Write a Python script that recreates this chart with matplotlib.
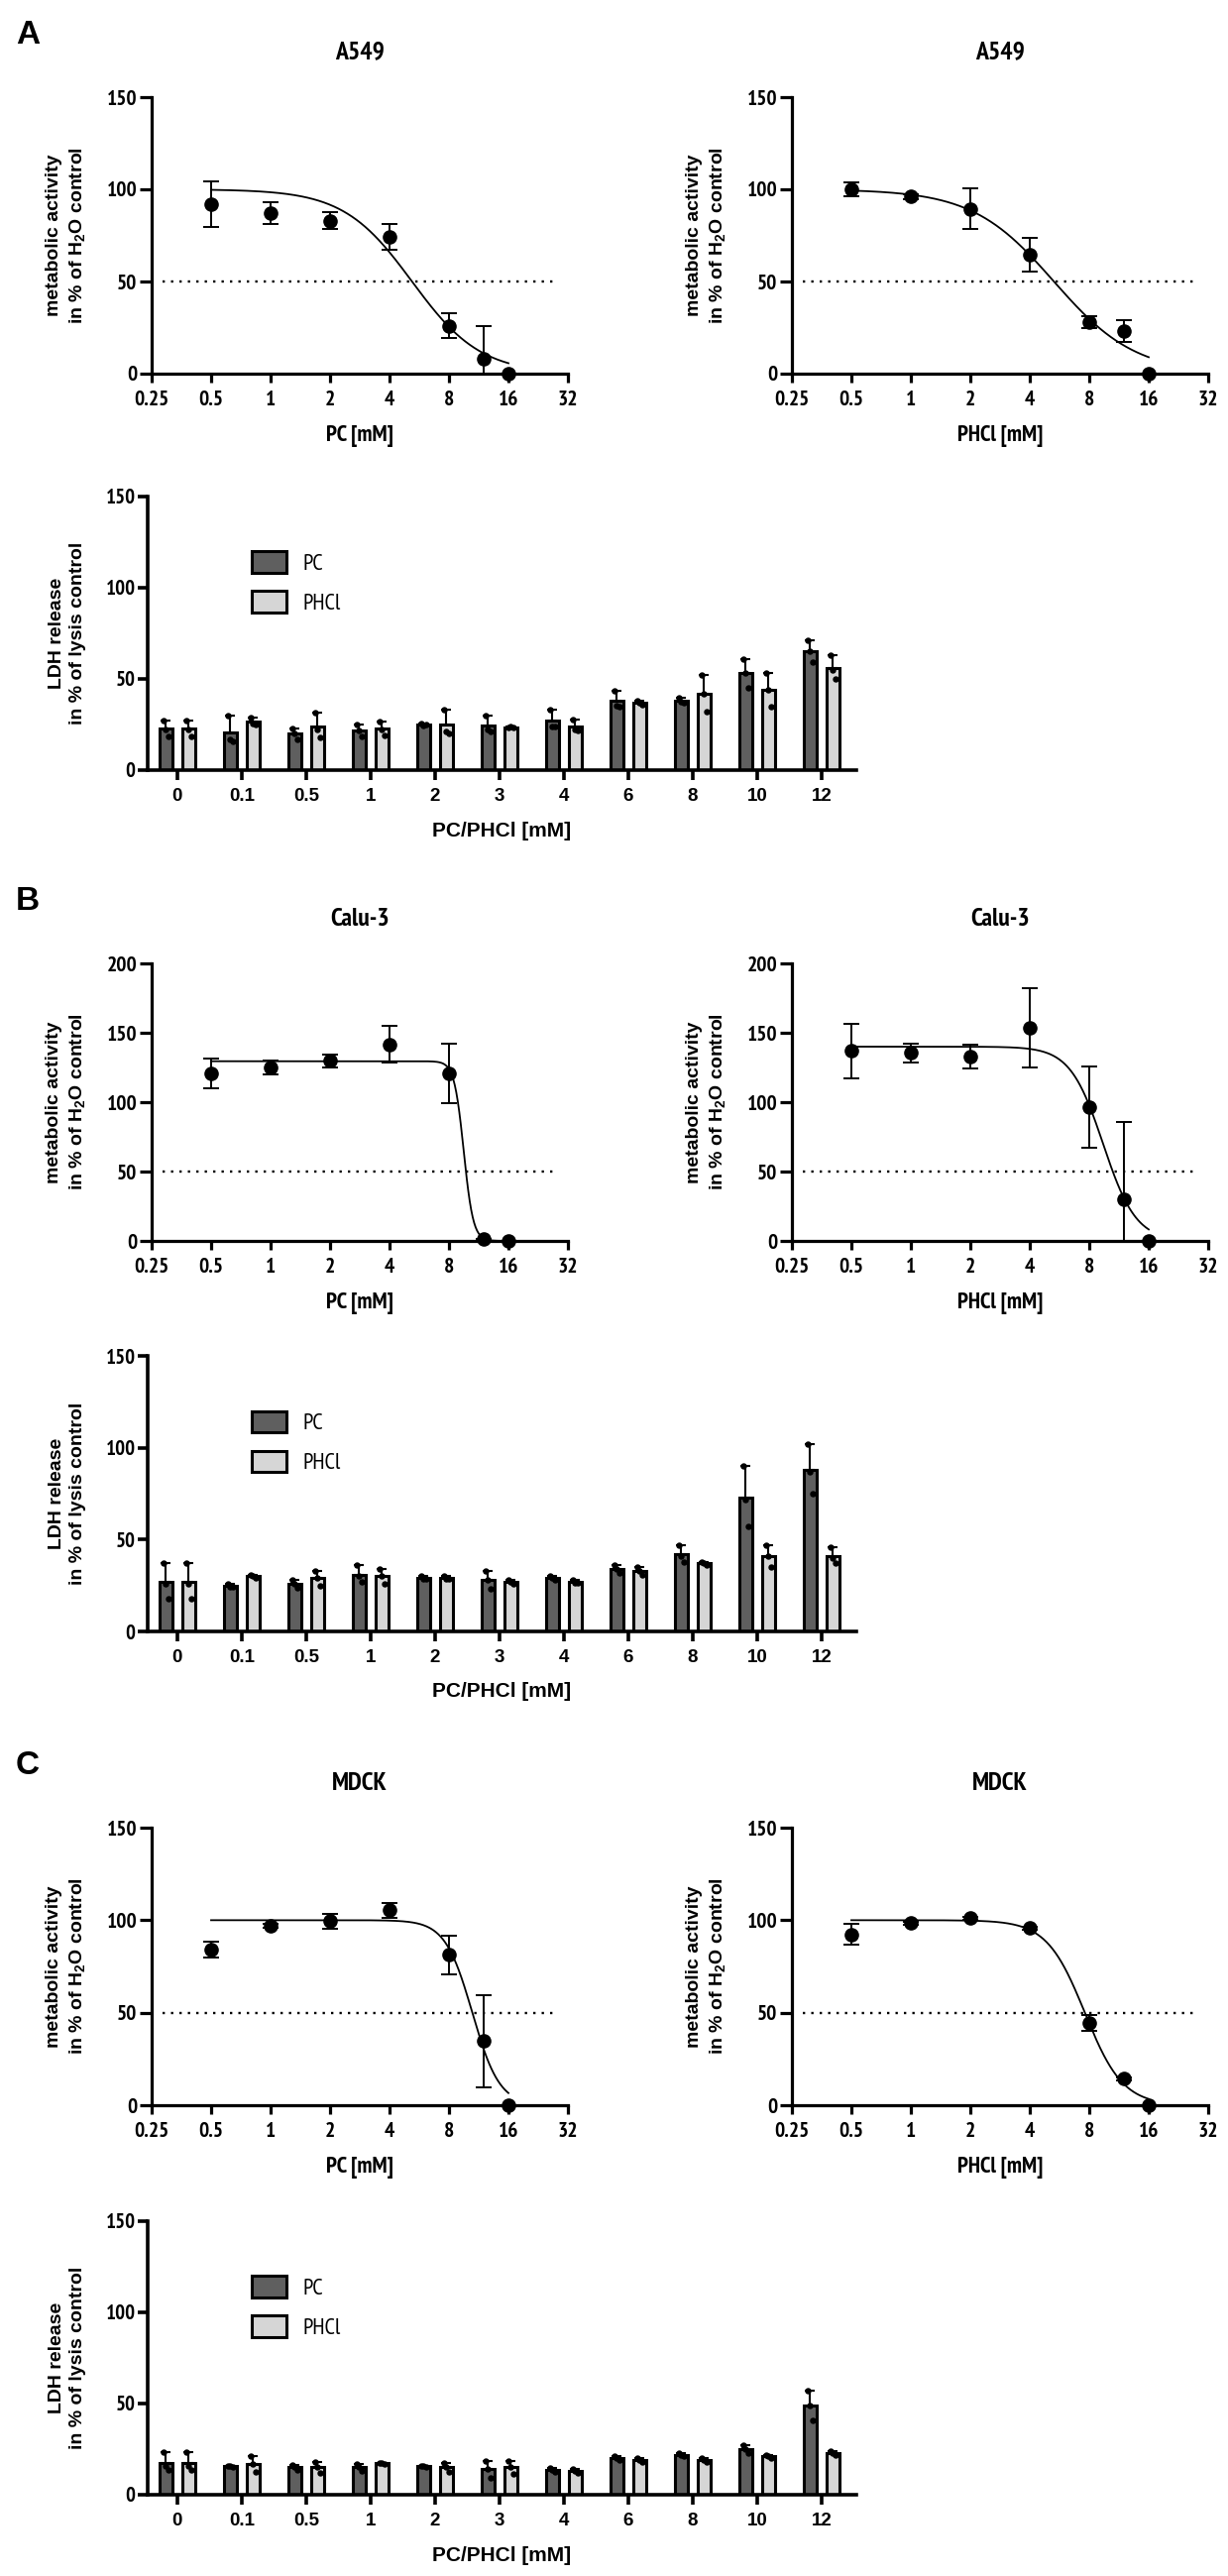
import numpy as np
import matplotlib
matplotlib.use('Agg')
import matplotlib.pyplot as plt
from matplotlib.ticker import NullLocator

NARROW = ['PT Sans Narrow', 'Liberation Sans', 'DejaVu Sans']
WIDE = ['Liberation Sans', 'DejaVu Sans']
plt.rcParams['font.family'] = WIDE
plt.rcParams['font.weight'] = 'bold'
plt.rcParams['mathtext.default'] = 'regular'

W, H = 1239, 2599

# ---- data ----
dose = [0.5, 1, 2, 4, 8, 12, 16]
dose_ticks = [0.25, 0.5, 1, 2, 4, 8, 16, 32]
dose_tick_labels = ['0.25', '0.5', '1', '2', '4', '8', '16', '32']
conc_labels = ['0', '0.1', '0.5', '1', '2', '3', '4', '6', '8', '10', '12']
cell_lines = ['A549', 'Calu-3', 'MDCK']
panel_letters = ['A', 'B', 'C']

# metabolic activity, mean and SD
a549_pc_mean = [92, 87, 83, 74, 25.9, 8.2, 0]
a549_pc_sd = [12.3, 6, 4.5, 7, 6.7, 17.7, 0]
a549_phcl_mean = [100, 96, 89.3, 64.6, 28, 23, 0]
a549_phcl_sd = [4, 1.5, 11, 9, 3, 6, 0]
calu3_pc_mean = [120.7, 125, 129.8, 141.7, 121, 1.2, 0]
calu3_pc_sd = [11, 5.3, 4.8, 13.3, 21.4, 0, 0]
calu3_phcl_mean = [137, 135.5, 133, 153.3, 96.6, 29.7, 0]
calu3_phcl_sd = [19.5, 6.8, 8.7, 28.6, 29.2, 56, 0]
mdck_pc_mean = [84.1, 97, 99.6, 105.5, 81.3, 34.6, 0]
mdck_pc_sd = [4.4, 1, 4, 4, 10.4, 25, 0]
mdck_phcl_mean = [92.2, 98.4, 101, 95.7, 44.7, 14.2, 0]
mdck_phcl_sd = [5.6, 0.8, 0.8, 0.8, 4.3, 1, 0]

# fitted curves: top, bottom, IC50, hill slope
a549_pc_fit = [100, 0, 5.2, 2.5]
a549_phcl_fit = [100, 0, 5.3, 2.1]
calu3_pc_fit = [129.5, 0, 9.5, 18]
calu3_phcl_fit = [140, 0, 9.4, 5.2]
mdck_pc_fit = [100, 0, 10.5, 6.3]
mdck_phcl_fit = [100, 0, 7.6, 4.5]

# LDH release, mean, SD and single replicates
a549_ldh_pc_mean = [22.6, 20.8, 20, 21.7, 25, 24.5, 27, 38, 38, 53, 65]
a549_ldh_pc_sd = [4.4, 9.2, 3, 3.1, 0.5, 5.5, 6, 5.5, 1.5, 8, 6]
a549_ldh_phcl_mean = [22.6, 26.6, 24, 22.6, 24.8, 23.5, 24, 37, 42, 44, 56]
a549_ldh_phcl_sd = [4.4, 2.4, 7.7, 4, 8.2, 0.5, 3.5, 1, 10, 9, 7]
a549_ldh_pc_reps = [[27, 18.5, 22.3], [30, 15.5, 17], [23, 17, 20], [24.8, 18.5, 21.8],
                    [25.5, 24.8, 24.7], [30, 21, 22.5], [33, 24, 24], [43.5, 35, 35.5],
                    [39.5, 37, 37.5], [61, 45, 53], [71, 59, 65]]
a549_ldh_phcl_reps = [[27, 18.5, 22.3], [29, 25, 25.8], [31.7, 18, 22.3], [26.6, 19, 22.2],
                      [33, 20, 21.4], [23.6, 23.2, 23.7], [27.5, 22, 22.5], [38, 36, 37],
                      [52, 32, 42], [53, 35, 44], [63, 50, 55]]

calu3_ldh_pc_mean = [27, 25, 26, 31, 29, 28, 29, 34, 42, 73, 88]
calu3_ldh_pc_sd = [10, 1, 2, 5, 1, 5, 1, 2, 5, 17, 14]
calu3_ldh_phcl_mean = [27, 30, 29, 30, 29, 27, 27, 33, 37, 41, 41]
calu3_ldh_phcl_sd = [10, 1, 4, 4, 1, 1, 1, 2, 1, 6, 5]
calu3_ldh_pc_reps = [[37, 18, 26], [26, 24.5, 24.5], [28, 24, 26], [36, 27, 30],
                     [30, 28.5, 28.5], [33, 23, 28], [30, 28, 29], [36, 32, 34],
                     [47, 38, 41], [90, 57, 72], [102, 75, 87]]
calu3_ldh_phcl_reps = [[37, 18, 26], [31, 29, 30], [33, 25, 29], [34, 26, 30],
                       [30, 28.5, 28.5], [28, 26, 27], [28, 26.5, 26.5], [35, 31, 33],
                       [38, 36, 37], [47, 35, 41], [46, 37, 40]]

mdck_ldh_pc_mean = [17.6, 15.5, 15, 15, 15.5, 14, 13.5, 20, 22, 25, 49]
mdck_ldh_pc_sd = [5.7, 0.5, 1.4, 1.7, 0.3, 4.5, 1, 1, 1, 2, 8]
mdck_ldh_phcl_mean = [17.6, 16.7, 15, 17.3, 15, 15, 13, 19, 19, 21, 23]
mdck_ldh_phcl_sd = [5.7, 4.3, 2.8, 0.3, 2.3, 3.5, 1.2, 1, 1, 1, 1]
mdck_ldh_pc_reps = [[23.3, 13.6, 16], [16, 15, 15.5], [16.4, 13.6, 15], [16.7, 13.3, 15],
                    [15.8, 15.2, 15.5], [18.5, 9.5, 14], [14.5, 12.5, 13.5], [21, 19, 20],
                    [23, 21, 22], [27, 23, 25], [57, 41, 49]]
mdck_ldh_phcl_reps = [[23.3, 13.6, 16], [21, 12.4, 16.7], [17.8, 12.2, 15], [17.6, 17, 17.3],
                      [17.3, 12.7, 15], [18.5, 11.5, 15], [14.2, 11.8, 13], [20, 18, 19],
                      [20, 18, 19], [22, 20, 21], [24, 22, 23]]

PC_COLOR = '#5f5f5f'
PHCL_COLOR = '#d6d6d6'

# ---- layout in pixels ----
dose_rows = [(98, 377), (972, 1252), (1844, 2124)]
bar_rows = [(501, 777), (1368, 1646), (2241, 2517)]
dose_ymax = [150, 200, 150]
dose_cols = [(153, 573), (799, 1219)]
bar_cols = (149, 864)

fig = plt.figure(figsize=(W / 100, H / 100), dpi=100)


def px_axes(left, top, right, bottom):
    return fig.add_axes([left / W, 1 - bottom / H, (right - left) / W, (bottom - top) / H])


def ftext(x, y, s, **kw):
    return fig.text(x / W, 1 - y / H, s, **kw)


def style_spines(ax, lw):
    for side in ['top', 'right']:
        ax.spines[side].set_visible(False)
    for side in ['left', 'bottom']:
        ax.spines[side].set_linewidth(lw)


def dose_panel(ax, mean, sd, fit, ymax):
    ax.set_xscale('log', base=2)
    ax.set_xlim(0.25, 32)
    ax.set_ylim(0, ymax)
    top, bottom, ic50, hill = fit
    xs = np.geomspace(0.5, 16, 400)
    ax.plot(xs, bottom + (top - bottom) / (1 + (xs / ic50) ** hill), color='black', lw=1.3)
    ax.axhline(50, xmin=0.025, xmax=0.975, color='black', lw=1.7, ls=(0, (1, 2.6)))
    ax.errorbar(dose, mean, yerr=sd, fmt='none', ecolor='black', elinewidth=1.4,
                capsize=6, capthick=1.4)
    ax.plot(dose, mean, 'o', color='black', ms=9.5, clip_on=False, zorder=5)
    ax.set_xticks(dose_ticks, dose_tick_labels)
    ax.xaxis.set_minor_locator(NullLocator())
    ax.set_yticks(np.arange(0, ymax + 1, 50))
    style_spines(ax, 2.3)
    ax.tick_params(axis='x', length=6.5, width=2.3, pad=6, labelsize=15.5, labelfontfamily=NARROW)
    ax.tick_params(axis='y', length=8.5, width=2.3, pad=2, labelsize=15.5, labelfontfamily=NARROW)


def ldh_panel(ax, pc_mean, pc_sd, pc_reps, phcl_mean, phcl_sd, phcl_reps):
    x = np.arange(len(conc_labels))
    bw, off = 0.21, 0.177
    jitter = [-0.035, 0.035, 0.0]
    handles = []
    for sign, mean, sd, reps, color, label in [(-1, pc_mean, pc_sd, pc_reps, PC_COLOR, 'PC'),
                                               (1, phcl_mean, phcl_sd, phcl_reps, PHCL_COLOR, 'PHCl')]:
        xp = x + sign * off
        b = ax.bar(xp, mean, width=bw, color=color, edgecolor='black', linewidth=2.2,
                   label=label, zorder=2)
        handles.append(b)
        ax.errorbar(xp, mean, yerr=[np.zeros(len(sd)), sd], fmt='none', ecolor='black',
                    elinewidth=1.5, capsize=3.5, capthick=1.5, zorder=3)
        for xi, r in zip(xp, reps):
            ax.plot(xi + np.array(jitter), r, 'o', color='black', ms=3.6, zorder=4)
    ax.set_xlim(-0.46, 10.54)
    ax.set_ylim(0, 150)
    ax.set_yticks([0, 50, 100, 150])
    ax.set_xticks(x, conc_labels)
    style_spines(ax, 2.6)
    ax.tick_params(axis='x', length=7, width=2.6, pad=6, labelsize=13.5)
    ax.tick_params(axis='y', length=7, width=2.6, pad=2, labelsize=15, labelfontfamily=NARROW)
    ax.legend(handles=handles, loc='upper left', bbox_to_anchor=(0.147, 0.80), frameon=False,
              borderpad=0, borderaxespad=0, handlelength=1.54, handleheight=1.06,
              handletextpad=0.72, labelspacing=0.72,
              prop={'family': NARROW, 'size': 16.5, 'weight': 'normal'})


dose_data = [
    [(a549_pc_mean, a549_pc_sd, a549_pc_fit), (a549_phcl_mean, a549_phcl_sd, a549_phcl_fit)],
    [(calu3_pc_mean, calu3_pc_sd, calu3_pc_fit), (calu3_phcl_mean, calu3_phcl_sd, calu3_phcl_fit)],
    [(mdck_pc_mean, mdck_pc_sd, mdck_pc_fit), (mdck_phcl_mean, mdck_phcl_sd, mdck_phcl_fit)],
]
ldh_data = [
    (a549_ldh_pc_mean, a549_ldh_pc_sd, a549_ldh_pc_reps,
     a549_ldh_phcl_mean, a549_ldh_phcl_sd, a549_ldh_phcl_reps),
    (calu3_ldh_pc_mean, calu3_ldh_pc_sd, calu3_ldh_pc_reps,
     calu3_ldh_phcl_mean, calu3_ldh_phcl_sd, calu3_ldh_phcl_reps),
    (mdck_ldh_pc_mean, mdck_ldh_pc_sd, mdck_ldh_pc_reps,
     mdck_ldh_phcl_mean, mdck_ldh_phcl_sd, mdck_ldh_phcl_reps),
]
dose_xlabels = ['PC [mM]', 'PHCl [mM]']
ylab_dose = 'metabolic activity\nin % of H$_2$O control'
ylab_ldh = 'LDH release\nin % of lysis control'

for i in range(3):
    top, bottom = dose_rows[i]
    ftext(28, top - 63, panel_letters[i], fontsize=24, ha='center', va='center')
    for j, (left, right) in enumerate(dose_cols):
        ax = px_axes(left, top, right, bottom)
        mean, sd, fit = dose_data[i][j]
        dose_panel(ax, mean, sd, fit, dose_ymax[i])
        cx = (left + right) / 2
        ftext(cx, top - 45, cell_lines[i], fontsize=18.5, ha='center', va='center', family=NARROW)
        ftext(cx, bottom + 63, dose_xlabels[j], fontsize=16.5, ha='center', va='center', family=NARROW)
        ftext(left - 86, (top + bottom) / 2, ylab_dose, fontsize=14, rotation=90,
              ha='center', va='center', linespacing=1.35, multialignment='center')

    btop, bbottom = bar_rows[i]
    ax = px_axes(bar_cols[0], btop, bar_cols[1], bbottom)
    ldh_panel(ax, *ldh_data[i])
    ftext((bar_cols[0] + bar_cols[1]) / 2, bbottom + 61, 'PC/PHCl [mM]', fontsize=15,
          ha='center', va='center')
    ftext(bar_cols[0] - 81, (btop + bbottom) / 2, ylab_ldh, fontsize=14, rotation=90,
          ha='center', va='center', linespacing=1.35, multialignment='center')

fig.savefig('out.png', dpi=100)
